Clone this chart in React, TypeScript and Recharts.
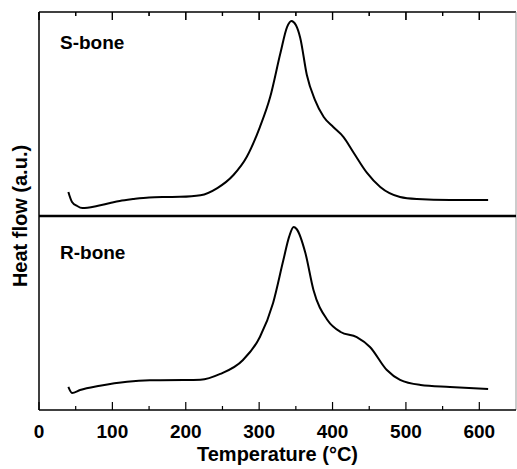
import { ComposedChart, Line, XAxis, YAxis, ReferenceLine } from "recharts";

// temperature (°C) and heat flow (a.u., 0-100 within each panel)
const sTemp = [40, 45, 52, 59, 79, 97, 110, 128, 150, 175, 192, 220, 243, 265, 283, 301, 315, 329, 338, 344, 350, 356, 365, 376, 388, 401, 415, 429, 447, 465, 492, 515, 560, 612];
const sHeat = [11.8, 6.9, 4.9, 3.9, 4.9, 6.4, 7.4, 8.3, 9.1, 9.3, 9.4, 10.2, 13.7, 20.1, 28.9, 43.6, 58.3, 79.9, 92.6, 95.6, 93.6, 87.3, 69.1, 56.9, 48.5, 43.6, 38.7, 30.9, 21.1, 14.2, 9.3, 8.3, 7.8, 7.8];

const rTemp = [40, 45, 56, 83, 120, 151, 197, 220, 247, 278, 301, 319, 333, 341, 347, 351, 363, 374, 393, 411, 433, 451, 474, 492, 520, 560, 612];
const rHeat = [11.9, 8.8, 10.3, 12.5, 14.6, 15.3, 15.4, 15.6, 18.6, 25.8, 37.6, 55.2, 77.3, 89.5, 94.3, 93.3, 80.9, 61.9, 46.4, 40.2, 37.6, 32.5, 20.6, 15.5, 12.9, 11.9, 10.8];

// major ticks every 100 (labelled), minor ones in between
const xTicks = [0, 50, 100, 150, 200, 250, 300, 350, 400, 450, 500, 550, 600];

const sData = sTemp.map((t, i) => ({ t, v: sHeat[i] }));
const rData = rTemp.map((t, i) => ({ t, v: rHeat[i] }));

// share of the plot height taken by the upper (S-bone) panel
const TOP_SHARE = 204 / 398;
const sDomain = [-100 * (1 - TOP_SHARE) / TOP_SHARE, 100];
const rDomain = [0, 100 / (1 - TOP_SHARE)];

const FONT = "'Liberation Sans', Arial, Helvetica, sans-serif";
const CHART_W = 517;
const CHART_H = 469;
const TOP = 12;
const X_AXIS_H = 59;
const PLOT_H = CHART_H - TOP - X_AXIS_H;
const R_UNITS_PER_PX = rDomain[1] / PLOT_H;

const isMajor = (v: number) => v % 100 === 0;
const tickLen = (v: number) => (isMajor(v) ? 8 : 4);

// inward tick marks on the bottom axis (and mirrored on the top edge), labels below
const FrameTick = (props: any) => {
  const { x, y, payload } = props;
  const len = tickLen(payload.value);
  const top = Number(y) - PLOT_H;
  return (
    <g>
      <line x1={x} x2={x} y1={y} y2={Number(y) - len} stroke="#000" strokeWidth={1.2} />
      <line x1={x} x2={x} y1={top} y2={top + len} stroke="#000" strokeWidth={1.2} />
      {isMajor(payload.value) && (
        <text x={x} y={Number(y) + 28} textAnchor="middle" fontSize={19} fontWeight="bold" fill="#000" fontFamily={FONT}>
          {payload.value}
        </text>
      )}
    </g>
  );
};

const panelLabel = {
  position: "absolute" as const,
  left: 60,
  fontSize: 19,
  fontWeight: "bold" as const,
  lineHeight: 1,
  color: "#000",
};

export default function App() {
  return (
    <div style={{ position: "absolute", left: 0, top: 0, width: CHART_W, height: CHART_H, background: "#fff", fontFamily: FONT }}>
      <ComposedChart width={CHART_W} height={CHART_H} margin={{ top: TOP, right: 1, bottom: 0, left: 0 }}>
        <XAxis
          xAxisId="main"
          type="number"
          dataKey="t"
          domain={[0, 650]}
          allowDataOverflow
          ticks={xTicks}
          interval={0}
          height={X_AXIS_H}
          tickLine={false}
          tickSize={0}
          tickMargin={0}
          axisLine={{ stroke: "#000", strokeWidth: 1.5 }}
          tick={<FrameTick />}
          label={{ value: "Temperature (°C)", position: "insideBottom", offset: 8, fontSize: 20, fontWeight: "bold", fill: "#000", fontFamily: FONT }}
        />
        <YAxis yAxisId="s" type="number" domain={sDomain} allowDataOverflow width={39} ticks={[0]} interval={0} tickFormatter={() => ""} tickLine={false} axisLine={false} />
        <YAxis yAxisId="r" type="number" domain={rDomain} allowDataOverflow hide />
        {/* frame: left, top, right; divider between panels */}
        <ReferenceLine xAxisId="main" yAxisId="s" x={0} stroke="#000" strokeWidth={1.5} ifOverflow="visible" />
        <ReferenceLine xAxisId="main" yAxisId="r" y={rDomain[1]} stroke="#000" strokeWidth={1.5} ifOverflow="visible" />
        <ReferenceLine xAxisId="main" yAxisId="s" x={650} stroke="#999" strokeWidth={1} ifOverflow="visible" />
        <ReferenceLine xAxisId="main" yAxisId="s" y={0} stroke="#000" strokeWidth={2.5} />
        {/* inward tick marks along the top edge */}
        {xTicks.map((t) => (
          <ReferenceLine
            key={`top-${t}`}
            xAxisId="main"
            yAxisId="r"
            ifOverflow="visible"
            segment={[
              { x: t, y: rDomain[1] - 0.01 },
              { x: t, y: rDomain[1] - tickLen(t) * R_UNITS_PER_PX },
            ]}
            stroke="#000"
            strokeWidth={1.2}
          />
        ))}
        <Line xAxisId="main" yAxisId="s" data={sData} dataKey="v" type="monotone" stroke="#000" strokeWidth={2} dot={false} isAnimationActive={false} />
        <Line xAxisId="main" yAxisId="r" data={rData} dataKey="v" type="monotone" stroke="#000" strokeWidth={2} dot={false} isAnimationActive={false} />
      </ComposedChart>
      <div style={{ ...panelLabel, top: 33 }}>S-bone</div>
      <div style={{ ...panelLabel, top: 243 }}>R-bone</div>
      <div
        style={{
          position: "absolute",
          left: 20,
          top: 216,
          transform: "translate(-50%, -50%) rotate(-90deg)",
          whiteSpace: "nowrap",
          fontSize: 20,
          fontWeight: "bold",
          lineHeight: 1,
          color: "#000",
        }}
      >
        Heat flow (a.u.)
      </div>
    </div>
  );
}
